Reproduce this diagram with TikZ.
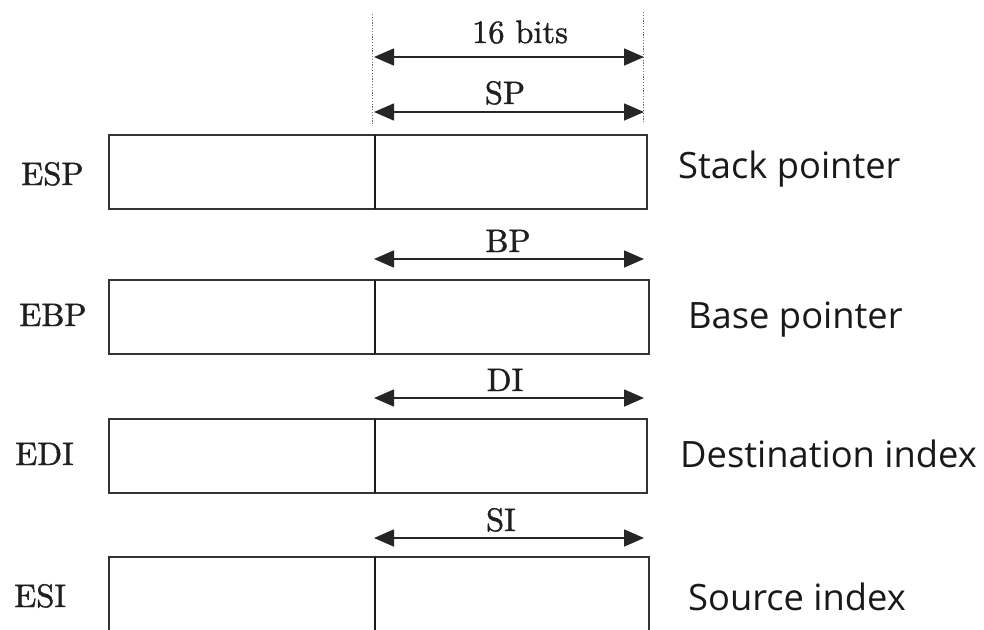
\documentclass[tikz,border=0pt]{standalone}
\usepackage{fontspec}
\newfontfamily\labelsans{Open Sans}
\newfontfamily\labelserif{lmroman10-regular.otf}[FakeBold=1.3]
\usetikzlibrary{arrows.meta}
\begin{document}
\begin{tikzpicture}[x=1pt,y=-1pt,
  half/.style={draw=black!80, line width=1.8pt, inner sep=0pt, outer sep=0pt,
               minimum height=74pt, anchor=north west},
  lowhalf/.style={half, minimum width=266pt},
  highhalf/.style={half, minimum width=272pt},
  divider/.style={draw=black!90, line width=2.8pt},
  dim/.style={{Triangle[length=20pt,width=17pt]}-{Triangle[length=20pt,width=17pt]},
              line width=1.6pt, draw=black!85},
  guide/.style={draw=black!55, line width=1pt, dash pattern=on 1.2pt off 1.6pt},
  serif/.style={font=\labelserif\fontsize{32.5}{38}\selectfont, text=black!88,
                inner sep=0pt, anchor=base},
  regname/.style={serif, anchor=base west},
  side/.style={font=\labelsans\fontsize{36.3}{43}\selectfont, text=black!90,
               inner sep=0pt, anchor=base west},
]
\clip (0,0) rectangle (984,629);

% register boxes: low word | high word (16 bits)
\node[lowhalf]  (espLo) at (109,135) {};
\node[highhalf] (espHi) at (375,135) {};
\node[lowhalf]  (ebpLo) at (109,280) {};
\node[highhalf, minimum width=274pt] (ebpHi) at (375,280) {};
\node[lowhalf]  (ediLo) at (109,419) {};
\node[highhalf] (ediHi) at (375,419) {};
\node[lowhalf]  (esiLo) at (109,557) {};
\node[highhalf, minimum width=274pt] (esiHi) at (375,557) {};

\foreach \r in {esp,ebp,edi,esi}
  \draw[divider] (\r Hi.north west) -- (\r Hi.south west);

% dotted guides bounding the 16-bit part
\coordinate (g1t) at (372,14);
\coordinate (g1b) at (372,124);
\coordinate (g2t) at (643,12);
\coordinate (g2b) at (643,123);
\draw[guide] (g1t) -- (g1b);
\draw[guide] (g2t) -- (g2b);

% width arrows
\coordinate (bitsA) at (374,57);  \coordinate (bitsB) at (644,57);
\coordinate (spA)   at (374,112); \coordinate (spB)   at (644,112);
\coordinate (bpA)   at (374,259); \coordinate (bpB)   at (644,259);
\coordinate (diA)   at (374,398); \coordinate (diB)   at (644,398);
\coordinate (siA)   at (374,538); \coordinate (siB)   at (644,538);
\draw[dim] (bitsA) -- (bitsB);
\draw[dim] (spA) -- (spB);
\draw[dim] (bpA) -- (bpB);
\draw[dim] (diA) -- (diB);
\draw[dim] (siA) -- (siB);

\node[serif] (bits) at (520,43)  {16 bits};
\node[serif] (sp)   at (505,104) {SP};
\node[serif] (bp)   at (508,252) {BP};
\node[serif] (di)   at (505,391) {DI};
\node[serif] (si)   at (501,531) {SI};

% register names
\node[regname] (espN) at (21,185) {ESP};
\node[regname] (ebpN) at (19,326) {EBP};
\node[regname] (ediN) at (15,465) {EDI};
\node[regname] (esiN) at (14,607) {ESI};

% descriptions
\node[side] (espD) at (678,178) {Stack pointer};
\node[side] (ebpD) at (688,328) {Base pointer};
\node[side] (ediD) at (680,467) {Destination index};
\node[side] (esiD) at (688,610) {Source index};
\end{tikzpicture}
\end{document}
